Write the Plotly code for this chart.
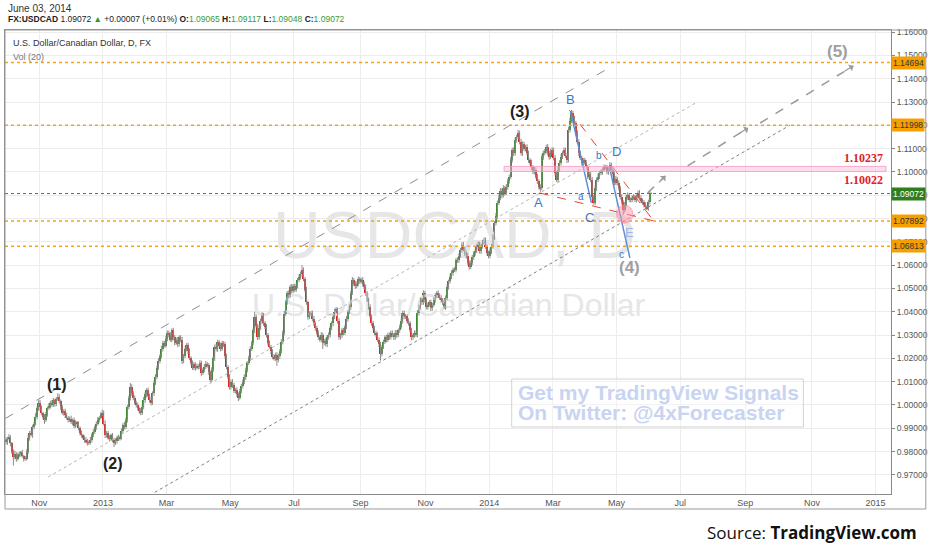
import pandas as pd
import plotly.graph_objects as go

# daily closes, in pips (1e-4)
closes_q4_2012 = [9840, 9855, 9860, 9835, 9800, 9775, 9790, 9770, 9785, 9790,
                  9795, 9780, 9772, 9770, 9800, 9860, 9880, 9870, 9905, 9920,
                  9950, 9985, 10010, 9990, 9965, 9950, 9935, 9960, 9985, 9995,
                  10010, 10000, 10020, 10005, 10025, 10035, 10015, 9990, 9966, 9975,
                  9955, 9945, 9936, 9940, 9925, 9935, 9910, 9925, 9920, 9900,
                  9880, 9870, 9860, 9850, 9845, 9840, 9838, 9850, 9870, 9885,
                  9905, 9920, 9936, 9945, 9960, 9966]
closes_q1_2013 = [9920, 9870, 9880, 9860, 9855, 9870, 9850, 9837, 9845, 9860,
                  9855, 9860, 9890, 9915, 9905, 9936, 9990, 10030, 10077, 10050,
                  10030, 10010, 10000,
                  9985, 9975, 9966, 9990, 10020, 10045, 10064, 10040, 10020, 10010,
                  10050, 10094, 10120, 10160, 10190, 10210, 10240, 10266, 10255, 10285,
                  10310, 10300, 10280, 10320, 10290, 10266, 10280, 10260, 10290, 10280,
                  10190, 10210, 10240, 10257, 10230, 10200, 10180, 10160, 10175, 10160, 10165]
closes_q2_2013 = [10163, 10180, 10137, 10150, 10165, 10175, 10170, 10140, 10107, 10150,
                  10200, 10250, 10240, 10270, 10255, 10240, 10265, 10260, 10210, 10163, 10120, 10077,
                  10100, 10085, 10060, 10064, 10045, 10030, 10060, 10080, 10100, 10120,
                  10150, 10180, 10200, 10240, 10266, 10320, 10378, 10340, 10290, 10330, 10360, 10386, 10350,
                  10335, 10300, 10266, 10250, 10230, 10206, 10200, 10215, 10193, 10210,
                  10230, 10270, 10310, 10390, 10440, 10480, 10470, 10506, 10490, 10510]
closes_q3_2013 = [10495, 10510, 10536, 10550, 10560, 10580, 10540, 10495, 10440, 10378,
                  10390, 10395, 10370, 10350, 10330, 10310, 10290, 10280, 10300, 10266, 10275, 10260, 10290,
                  10300, 10330, 10350, 10378, 10400, 10410, 10360, 10290, 10300, 10320,
                  10310, 10335, 10370, 10400, 10420, 10480, 10536, 10520, 10510, 10520, 10540, 10530,
                  10536, 10520, 10506, 10480, 10450, 10420, 10380, 10350, 10330, 10310,
                  10300, 10280, 10260, 10220, 10250, 10270, 10290, 10280, 10300, 10290, 10310]
closes_q4_2013 = [10300, 10290, 10310, 10300, 10320, 10335, 10360, 10395, 10380, 10380,
                  10360, 10350, 10320, 10290, 10300, 10310, 10300, 10395, 10420, 10450, 10440, 10480, 10450,
                  10420, 10430, 10440, 10415, 10430, 10450, 10470, 10480, 10470, 10460, 10450,
                  10440, 10420, 10460, 10506, 10530, 10550, 10566, 10580, 10580, 10620,
                  10622, 10640, 10665, 10687, 10670, 10650, 10640, 10610, 10592, 10610, 10635,
                  10650, 10660, 10680, 10690, 10660, 10680, 10700, 10708, 10680, 10650, 10640]
closes_q1_2014 = [10660, 10680, 10720, 10780, 10810, 10867, 10890, 10920, 10900, 10930,
                  10910, 10936, 10960, 10980, 11050, 11094, 11080, 11137, 11150, 11167, 11130, 11080, 11120,
                  11100, 11107, 11080, 11050, 11040, 11020, 11000, 11010, 10980, 10960,
                  10936, 10930, 11064, 11080, 11090, 11107, 11080, 11064, 11090, 11094,
                  11060, 10996, 10966, 11010, 11040, 11064, 11080, 11094, 11070, 11050,
                  11180, 11220, 11253, 11230, 11210, 11167, 11130, 11080, 11060, 11039, 11050]
closes_q2_2014 = [11040, 11020, 10980, 10990, 10966, 10893, 10867, 10930, 10966, 10980, 10996,
                  11000, 11010, 11020, 11020, 11000, 11010, 11030, 11010, 10990, 10953, 10970,
                  10953, 10930, 10893, 10870, 10837, 10860, 10893, 10900, 10880, 10880, 10890,
                  10893, 10880, 10893, 10910, 10890, 10875, 10870, 10858, 10850, 10845, 10870,
                  10906.5, 10907.2]

# wick lengths above / below the body, in pips
upper_q4_2012 = [12, 8, 15, 10, 6, 9, 14, 7, 11, 10, 8, 12, 6, 9, 10, 14, 8, 12, 10, 7,
                 15, 9, 10, 12, 8, 6, 11, 10, 9, 14, 8, 12, 10, 7, 9, 15, 11, 8, 10, 6,
                 9, 12, 8, 10, 14, 7, 11, 9, 6, 10, 8, 11, 7, 9, 12, 10, 8, 13, 9, 11,
                 7, 10, 12, 8, 9, 14]
lower_q4_2012 = [9, 11, 7, 12, 10, 35, 8, 14, 9, 10, 12, 7, 15, 9, 8, 10, 13, 6, 11, 9,
                 8, 12, 10, 14, 9, 11, 16, 8, 10, 7, 11, 9, 8, 12, 10, 7, 9, 13, 8, 12,
                 10, 8, 11, 9, 7, 12, 10, 8, 13, 9, 11, 10, 8, 12, 9, 14, 10, 7, 11, 8,
                 9, 12, 8, 10, 7, 9]
upper_q1_2013 = [10, 14, 8, 9, 12, 7, 10, 9, 11, 8, 12, 9, 10, 7, 13, 9, 11, 10, 17, 12,
                 9, 11, 8, 10, 7, 12, 9, 14, 10, 8, 11, 9, 13, 8, 10, 12, 9, 11, 8, 14,
                 10, 9, 12, 10, 9, 13, 8, 11, 10, 9, 12, 8, 10, 12, 9, 11, 8, 10, 13, 9,
                 11, 10, 8, 12]
lower_q1_2013 = [8, 12, 10, 9, 11, 8, 10, 17, 9, 11, 10, 8, 9, 12, 10, 8, 11, 9, 10, 12,
                 10, 9, 11, 8, 12, 10, 9, 8, 11, 13, 9, 10, 12, 9, 11, 8, 10, 9, 12, 10,
                 11, 8, 9, 12, 10, 9, 11, 13, 10, 8, 12, 9, 10, 14, 11, 9, 10, 12, 8, 10,
                 9, 11, 12, 8]
upper_q2_2013 = [9, 12, 10, 8, 11, 13, 9, 10, 8, 12, 11, 9, 14, 10, 8, 12, 10, 9, 11, 10,
                 8, 12, 9, 11, 10, 8, 12, 9, 10, 11, 9, 12, 10, 8, 11, 12, 9, 10, 22, 11,
                 9, 13, 10, 12, 9, 10, 12, 9, 11, 8, 10, 12, 9, 11, 10, 9, 12, 10, 14, 11,
                 9, 12, 10, 13, 9]
lower_q2_2013 = [10, 9, 12, 8, 10, 11, 9, 12, 10, 8, 9, 11, 10, 12, 9, 10, 8, 11, 12, 10,
                 9, 11, 10, 12, 9, 11, 10, 13, 8, 10, 9, 11, 12, 10, 9, 11, 8, 10, 12, 9,
                 11, 10, 8, 12, 10, 9, 11, 10, 8, 12, 10, 9, 11, 25, 10, 12, 9, 10, 11, 8,
                 10, 12, 9, 11, 10]
upper_q3_2013 = [10, 12, 9, 11, 13, 20, 10, 9, 12, 8, 11, 9, 10, 12, 8, 10, 11, 9, 12, 10,
                 8, 11, 9, 12, 10, 9, 11, 13, 10, 8, 12, 9, 11, 10, 9, 12, 8, 11, 10, 13,
                 9, 12, 10, 11, 9, 10, 12, 9, 11, 8, 10, 12, 9, 11, 10, 9, 12, 10, 11, 8,
                 10, 9, 12, 10, 11, 9]
lower_q3_2013 = [9, 11, 10, 8, 12, 10, 9, 11, 10, 12, 10, 9, 11, 10, 12, 9, 10, 8, 11, 26,
                 10, 9, 12, 10, 11, 9, 12, 10, 8, 11, 10, 9, 12, 11, 10, 9, 12, 10, 11, 8,
                 10, 12, 9, 11, 10, 9, 12, 10, 11, 8, 10, 9, 12, 10, 11, 10, 9, 12, 30, 11,
                 10, 9, 12, 10, 11, 9]
upper_q4_2013 = [10, 9, 12, 11, 8, 10, 12, 9, 11, 10, 9, 12, 10, 11, 8, 10, 9, 12, 10, 11,
                 9, 12, 10, 11, 9, 10, 12, 8, 11, 10, 9, 12, 10, 11, 9, 12, 10, 11, 8, 10,
                 12, 9, 11, 10, 12, 10, 9, 11, 13, 10, 9, 12, 10, 11, 9, 10, 12, 9, 11, 10,
                 12, 9, 11, 10, 8, 12]
lower_q4_2013 = [9, 11, 10, 12, 9, 10, 8, 11, 12, 10, 11, 10, 9, 12, 10, 11, 9, 10, 12, 9,
                 11, 10, 12, 10, 11, 9, 12, 10, 9, 11, 10, 12, 9, 10, 11, 9, 12, 10, 11, 9,
                 10, 12, 9, 11, 10, 12, 9, 11, 10, 9, 12, 10, 11, 9, 10, 12, 10, 9, 11, 10,
                 12, 9, 11, 10, 9, 11]
upper_q1_2014 = [11, 10, 12, 9, 14, 10, 12, 11, 9, 13, 10, 12, 11, 9, 14, 10, 12, 11, 9, 13,
                 10, 12, 11, 10, 9, 12, 11, 10, 13, 9, 11, 10, 12, 9, 11, 10, 12, 9, 10, 13,
                 11, 10, 12, 10, 12, 9, 11, 10, 12, 9, 11, 10, 12, 14, 12, 13, 10, 11, 9, 12,
                 10, 11, 9, 10]
lower_q1_2014 = [10, 12, 9, 11, 10, 12, 9, 11, 13, 10, 11, 9, 12, 10, 11, 9, 12, 10, 11, 9,
                 12, 10, 11, 10, 12, 9, 11, 10, 12, 9, 11, 10, 12, 11, 15, 10, 12, 9, 11, 10,
                 12, 9, 11, 10, 12, 9, 11, 10, 12, 9, 11, 10, 12, 9, 11, 10, 12, 9, 11, 10,
                 12, 9, 11, 10]
upper_q2_2014 = [10, 12, 9, 11, 10, 12, 9, 11, 10, 12, 9, 11, 10, 12, 9, 11, 10, 12, 9, 11,
                 10, 12, 9, 11, 10, 12, 9, 11, 10, 12, 9, 11, 10, 12, 9, 11, 10, 12, 9, 11,
                 10, 12, 9, 11, 10, 4.5]
lower_q2_2014 = [9, 11, 10, 12, 9, 11, 7, 10, 12, 9, 11, 10, 12, 9, 11, 10, 12, 9, 11, 10,
                 12, 9, 11, 10, 12, 9, 22, 11, 10, 12, 9, 11, 10, 12, 9, 11, 10, 12, 9, 11,
                 10, 12, 9, 11, 10, 1.7]
first_open = 0.9850

# horizontal levels drawn on the chart
levels = [1.14694, 1.11998, 1.07892, 1.06813]
zone = [1.10022, 1.10237]
zone_dates = ["2014-01-15", "2015-01-12"]

# trend channel and wave lines (date, price pairs)
channel_upper = (["2012-10-01", "2014-04-28"], [0.9942, 1.1454])
channel_mid = (["2012-11-09", "2014-07-16"], [0.9691, 1.1298])
channel_lower = (["2013-02-19", "2014-10-13"], [0.9625, 1.1200])
triangle_top = (["2014-03-18", "2014-06-05"], [1.1266, 1.0790])
triangle_bottom = (["2014-02-18", "2014-06-05"], [1.0910, 1.0790])
wave_a = (["2014-03-19", "2014-04-08"], [1.1258, 1.0867])
wave_c = (["2014-04-24", "2014-05-14"], [1.1026, 1.0631])
projections = [(["2014-05-30", "2014-06-17"], [1.0910, 1.0983]),
               (["2014-07-08", "2014-09-03"], [1.1026, 1.1189]),
               (["2014-09-15", "2014-12-11"], [1.1210, 1.1455])]

wave_labels = [("(1)", "2012-11-19", 1.0086), ("(2)", "2013-01-10", 0.9747),
               ("(3)", "2014-01-30", 1.1258)]
grey_labels = [("(4)", "2014-05-14", 1.0588), ("(5)", "2014-11-26", 1.1515)]
abc_labels = [("A", "2014-02-17", 1.0867), ("B", "2014-03-19", 1.1309),
              ("C", "2014-04-07", 1.0803), ("D", "2014-05-01", 1.1086)]
small_labels = [("a", "2014-03-28", 1.0893), ("b", "2014-04-15", 1.1069),
                ("c", "2014-05-06", 1.0644)]

tick_dates = ["2012-11-01", "2013-01-01", "2013-03-01", "2013-05-01", "2013-07-01",
              "2013-09-02", "2013-11-01", "2014-01-01", "2014-03-03", "2014-05-01",
              "2014-07-01", "2014-09-01", "2014-11-03", "2015-01-01"]
tick_text = ["Nov", "2013", "Mar", "May", "Jul", "Sep", "Nov", "2014", "Mar", "May",
             "Jul", "Sep", "Nov", "2015"]

close = [c / 10000 for c in closes_q4_2012 + closes_q1_2013 + closes_q2_2013 +
         closes_q3_2013 + closes_q4_2013 + closes_q1_2014 + closes_q2_2014]
up_w = upper_q4_2012 + upper_q1_2013 + upper_q2_2013 + upper_q3_2013 + upper_q4_2013 + upper_q1_2014 + upper_q2_2014
lo_w = lower_q4_2012 + lower_q1_2013 + lower_q2_2013 + lower_q3_2013 + lower_q4_2013 + lower_q1_2014 + lower_q2_2014
opn = [first_open] + close[:-1]
high = [max(o, c) + u / 10000 for o, c, u in zip(opn, close, up_w)]
low = [min(o, c) - l / 10000 for o, c, l in zip(opn, close, lo_w)]
dates = pd.bdate_range("2012-10-01", periods=len(close)) + pd.Timedelta(hours=12)

GREEN = "#3a8a28"
RED = "#e3211b"
FONT = "Liberation Sans, Arial, sans-serif"

fig = go.Figure()

# watermark behind the candles
fig.add_trace(go.Scatter(x=["2013-11-28 12:00", "2013-11-22 12:00"], y=[1.0700, 1.0418],
                         mode="text", text=["USDCAD, D", "U.S. Dollar/Canadian Dollar"],
                         textfont=dict(size=[66, 32], color="#e6e6e6", family=FONT),
                         hoverinfo="skip"))

wx, wy = [], []
for d, h, l in zip(dates, high, low):
    wx += [d, d, None]
    wy += [l, h, None]
fig.add_trace(go.Scatter(x=wx, y=wy, mode="lines", line=dict(color="#8a8a8a", width=1),
                         hoverinfo="skip"))

fig.add_trace(go.Bar(x=dates, y=[max(abs(c - o), 0.00006) for o, c in zip(opn, close)],
                     base=[min(o, c) for o, c in zip(opn, close)],
                     width=0.95 * 86400000,
                     marker=dict(color=[GREEN if c >= o else RED for o, c in zip(opn, close)],
                                 line=dict(width=0))))

for ln, color, width, dash in [(channel_upper, "#8c8c8c", 1, "dash"),
                               (channel_mid, "#b5b5b5", 1, "dot"),
                               (channel_lower, "#7d7d7d", 1, "dot"),
                               (triangle_top, "#e8433b", 1, "dash"),
                               (triangle_bottom, "#e8433b", 1, "dash"),
                               (wave_a, "#5d8fd3", 1.5, "solid"),
                               (wave_c, "#5d8fd3", 1.5, "solid")]:
    fig.add_trace(go.Scatter(x=ln[0], y=ln[1], mode="lines",
                             line=dict(color=color, width=width, dash=dash), hoverinfo="skip"))

for px, py in projections:
    fig.add_trace(go.Scatter(x=px, y=py, mode="lines",
                             line=dict(color="#9a9a9a", width=1.5, dash="dash"), hoverinfo="skip"))

shapes = []
for lv in levels:
    shapes.append(dict(type="line", xref="paper", x0=0, x1=1, y0=lv, y1=lv,
                       line=dict(color="#f5a21f", width=1.5, dash="dot")))
shapes.append(dict(type="line", xref="paper", x0=0, x1=1, y0=close[-1], y1=close[-1],
                   line=dict(color="#666666", width=1, dash="dot")))
shapes.append(dict(type="rect", x0=zone_dates[0], x1=zone_dates[1], y0=zone[0], y1=zone[1],
                   fillcolor="rgba(255,185,215,0.45)", line=dict(color="rgba(245,150,190,0.8)", width=1)))
shapes.append(dict(type="circle", x0="2014-05-01", x1="2014-05-16", y0=1.0780, y1=1.0858,
                   fillcolor="rgba(255,150,170,0.5)", line=dict(color="rgba(250,130,160,0.6)", width=1)))
shapes.append(dict(type="rect", xref="paper", yref="paper", x0=0.5719, x1=0.9011, y0=0.1444, y1=0.2478,
                   fillcolor="rgba(255,255,255,0.3)", line=dict(color="#d2d2d2", width=1)))
shapes.append(dict(type="rect", xref="paper", yref="paper", x0=0, x1=1.0393, y0=-0.0323, y1=1,
                   line=dict(color="#9a9a9a", width=1)))


def paper_text(text, x, y, size, color, xanchor="left", family=None):
    font = dict(size=size, color=color)
    if family:
        font["family"] = family
    return dict(text=text, xref="paper", yref="paper", x=x, y=y, xanchor=xanchor,
                yanchor="middle", showarrow=False, font=font)


ann = []
last = close[-1]
ann.append(paper_text("June 03, 2014", 0.001, 1.0474, 10, "#333"))
ann.append(paper_text(("<b>FX:USDCAD</b> %.5f <span style='color:#2e9a2e'>▲</span> +0.00007 (+0.01%%) "
                       "<b>O:</b><span style='color:#3a9a3a'>%.5f</span> "
                       "<b>H:</b><span style='color:#3a9a3a'>%.5f</span> "
                       "<b>L:</b><span style='color:#3a9a3a'>%.5f</span> "
                       "<b>C:</b><span style='color:#3a9a3a'>%.5f</span>")
                      % (last, opn[-1], high[-1], low[-1], last), 0.001, 1.0237, 8.5, "#222"))
ann.append(paper_text("U.S. Dollar/Canadian Dollar, D, FX", 0.0067, 0.972, 9, "#333"))
ann.append(paper_text("Vol (20)", 0.0067, 0.9418, 9, "#777"))
ann.append(paper_text("Source: <b>TradingView.com</b>", 1.0315, -0.0819, 17, "#111",
                      xanchor="right", family="Open Sans"))
for line, y in zip(["Get my TradingView Signals", "On Twitter: @4xForecaster"], [0.2177, 0.1746]):
    ann.append(paper_text("<b>%s</b>" % line, 0.5764, y, 21, "#c8d4f1"))

for lv in levels:
    ann.append(dict(text="%.5f" % lv, xref="paper", x=1, y=lv, xanchor="left",
                    showarrow=False, bgcolor="#f5a000", borderpad=1, font=dict(size=8.5, color="#333")))
ann.append(dict(text="%.5f" % last, xref="paper", x=1, y=last, xanchor="left",
                showarrow=False, bgcolor="#2f7d1e", borderpad=1, font=dict(size=8.5, color="white")))
ann.append(dict(text="<b>%.5f</b>" % zone[1], xref="paper", x=0.9933, y=zone[1], xanchor="right",
                yshift=8, showarrow=False, font=dict(size=12, color="#e0202a", family="Liberation Serif")))
ann.append(dict(text="<b>%.5f</b>" % zone[0], xref="paper", x=0.9933, y=zone[0], xanchor="right",
                yshift=-9, showarrow=False, font=dict(size=12, color="#e0202a", family="Liberation Serif")))

for t, d, p in wave_labels:
    ann.append(dict(text="<b>%s</b>" % t, x=d, y=p, showarrow=False, font=dict(size=16, color="#222")))
for t, d, p in grey_labels:
    ann.append(dict(text="<b>%s</b>" % t, x=d, y=p, showarrow=False, font=dict(size=17, color="#a0a0a0")))
for t, d, p in abc_labels:
    ann.append(dict(text=t, x=d, y=p, showarrow=False, font=dict(size=13, color="#3b78c4")))
ann.append(dict(text="E", x="2014-05-14", y=1.0742, showarrow=False, font=dict(size=13, color="#9ab5e6")))
for t, d, p in small_labels:
    ann.append(dict(text=t, x=d, y=p, showarrow=False, font=dict(size=10, color="#3b78c4")))
for (px, py), (dx, dy) in zip(projections, [(-8, 8), (-10, 6), (-10, 6)]):
    ann.append(dict(text="", x=px[1], y=py[1], ax=dx, ay=dy, showarrow=True, arrowhead=1,
                    arrowsize=1, arrowwidth=1.3, arrowcolor="#9a9a9a"))

fig.update_layout(
    width=932, height=550, autosize=False,
    margin=dict(l=4, r=38, t=30, b=56),
    paper_bgcolor="white", plot_bgcolor="white",
    showlegend=False, bargap=0,
    font=dict(family=FONT, color="#444"),
    shapes=shapes, annotations=ann,
    xaxis=dict(type="date", range=["2012-09-28 20:00", "2015-01-15 09:36"],
               rangebreaks=[dict(bounds=["sat", "mon"])],
               tickmode="array", tickvals=tick_dates, ticktext=tick_text,
               showgrid=True, gridcolor="#ececec", gridwidth=1,
               showline=True, linecolor="#8a8a8a", mirror=True,
               tickfont=dict(size=9, color="#555"), ticks=""),
    yaxis=dict(side="right", range=[0.9618, 1.1609], dtick=0.01, tick0=0.97,
               tickformat=".5f", showgrid=True, gridcolor="#ececec",
               showline=True, linecolor="#8a8a8a", mirror=True, zeroline=False,
               ticks="outside", ticklen=3, tickcolor="#8a8a8a",
               tickfont=dict(size=8.5, color="#555")),
)

# page body has a default 8px margin; drop it so the figure sits at the window corner
fig.write_html("out.html", config={"displayModeBar": False},
               post_script="document.body.style.margin='0';")
